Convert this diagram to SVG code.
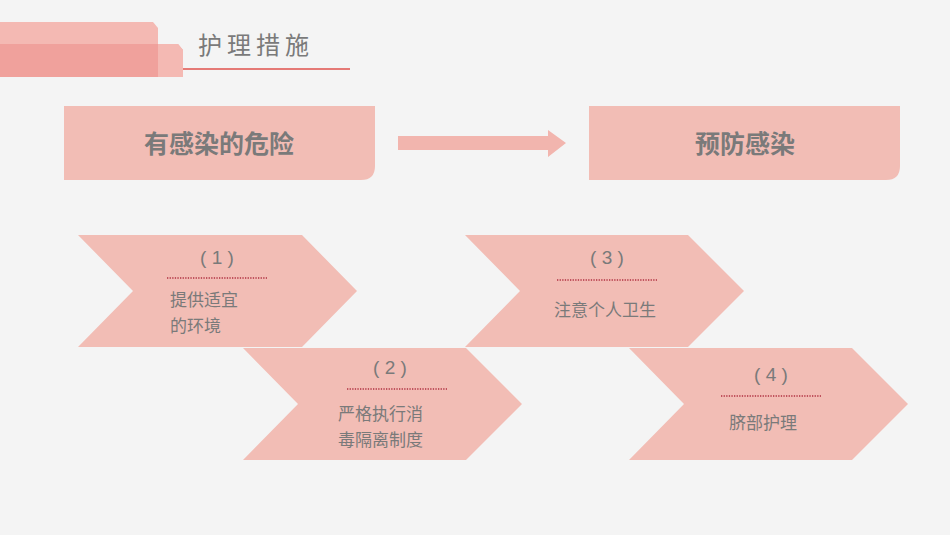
<svg xmlns="http://www.w3.org/2000/svg" width="950" height="535" viewBox="0 0 950 535">
<style>
.cv{fill:#f2bdb5}
.t{font-family:"Noto Sans CJK SC","Noto Sans",sans-serif;fill:#7a7a7a;font-size:17px}
.n{font-family:"Liberation Sans","Noto Sans CJK SC",sans-serif;fill:#7a7a7a;font-size:19px;text-anchor:middle}
.b{font-family:"Noto Sans CJK SC",sans-serif;fill:#7a7a7a;font-size:25px;font-weight:bold;text-anchor:middle}
.d{stroke:#b03040;stroke-width:1.3;stroke-dasharray:1.3 1.3}
</style>
<rect width="950" height="535" fill="#f4f4f4"/>
<g id="header">
<path d="M0 22H153L158 28V77H0Z" fill="#f4b9b3"/>
<path d="M0 44H178L183 50V77H0Z" fill="#ef9c98" opacity="0.85"/>
<path d="M158 44H178L183 50V77H158Z" fill="#f4b9b3"/>
<line x1="183" y1="69" x2="350" y2="69" stroke="#e57a76" stroke-width="2"/>
<text x="198" y="54" font-family="Noto Sans CJK SC,sans-serif" font-size="24" fill="#7a7a7a" letter-spacing="5">护理措施</text>
</g>
<g id="box1"><path d="M64 106H375V166Q375 180 361 180H64Z" class="cv"/><text x="219" y="153" class="b">有感染的危险</text></g>
<g id="box2"><path d="M589 106H900V166Q900 180 886 180H589Z" class="cv"/><text x="745" y="153" class="b">预防感染</text></g>
<g id="connectors"><path d="M398 136H548V130L566 143L548 157V150H398Z" fill="#f2b5ae"/></g>
<g id="c1"><path d="M78 235H302L357 291L302 347H78L133 291Z" class="cv"/><text x="217" y="264" class="n">( 1 )</text><line x1="167" y1="278" x2="267" y2="278" class="d"/><text x="170" y="306" class="t">提供适宜</text><text x="170" y="332" class="t">的环境</text></g>
<g id="c2"><path d="M243 348H466L522 404L466 460H243L298 404Z" class="cv"/><text x="390" y="374" class="n">( 2 )</text><line x1="347" y1="389" x2="447" y2="389" class="d"/><text x="338" y="420" class="t">严格执行消</text><text x="338" y="446" class="t">毒隔离制度</text></g>
<g id="c3"><path d="M465 235H688L744 291L688 347H465L520 291Z" class="cv"/><text x="607" y="264" class="n">( 3 )</text><line x1="557" y1="280" x2="657" y2="280" class="d"/><text x="605" y="316" class="t" text-anchor="middle">注意个人卫生</text></g>
<g id="c4"><path d="M629 348H852L908 404L852 460H629L684 404Z" class="cv"/><text x="771" y="381" class="n">( 4 )</text><line x1="721" y1="396" x2="821" y2="396" class="d"/><text x="763" y="429" class="t" text-anchor="middle">脐部护理</text></g>
</svg>
